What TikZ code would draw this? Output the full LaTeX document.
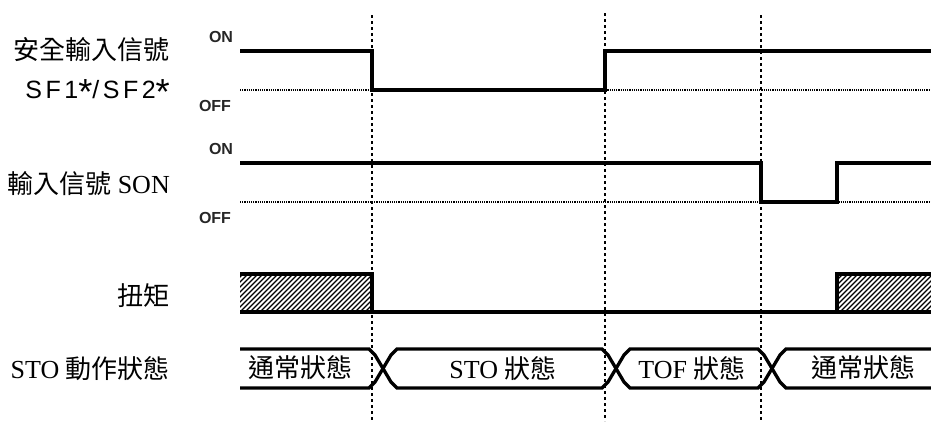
\documentclass[tikz,border=0pt]{standalone}
\usepackage{fontspec}
\setmainfont{Liberation Serif}
\newfontfamily\cjk{Noto Sans CJK TC}
\newfontfamily\arial{Liberation Sans}
\newfontfamily\arialsp[LetterSpace=14]{Liberation Sans}
\newcommand{\bigstar}{\raisebox{-0.25em}{\scalebox{1.45}{*}}}
\begin{document}
\begin{tikzpicture}[x=1pt,y=-1pt,
  wave/.style={line width=3.3pt, line join=miter, line cap=butt},
  offlevel/.style={line width=1.1pt, dash pattern=on 1.1pt off 1.1pt},
  guide/.style={line width=1.8pt, dash pattern=on 3pt off 3pt},
  hatchline/.style={line width=1.1pt},
  lbl/.style={inner sep=0pt},
  lvl/.style={font=\arial\bfseries\fontsize{16}{16}\selectfont, inner sep=0pt, text=black!85},
  cjkbig/.style={font=\cjk\fontsize{26}{26}\selectfont},
  latbig/.style={font=\fontsize{26}{26}\selectfont}]
\useasboundingbox (0,0) rectangle (931,421);

% guides
\draw[guide] (372,15) -- (372,421);
\draw[guide] (605,13) -- (605,421);
\draw[guide] (761,15) -- (761,421);

% signal 1
\draw[offlevel] (240,90) -- (931,90);
\draw[wave] (240,51) -- (372,51) -- (372,90) -- (605,90) -- (605,51) -- (931,51);

% signal 2
\draw[offlevel] (240,202) -- (931,202);
\draw[wave] (240,163) -- (761,163) -- (761,202) -- (837,202) -- (837,163) -- (931,163);

% torque
\begin{scope}
  \clip (240,274) rectangle (372,312);
  \foreach \k in {195,200,...,380} \draw[hatchline] (\k,312) -- (\k+38,274);
\end{scope}
\begin{scope}
  \clip (837,274) rectangle (931,312);
  \foreach \k in {795,800,...,935} \draw[hatchline] (\k,312) -- (\k+38,274);
\end{scope}
\draw[wave] (240,274) -- (372,274) -- (372,312) -- (837,312) -- (837,274) -- (931,274);
\draw[wave] (240,312) -- (931,312);

% STO state
\draw[wave] (240,349) -- (369,349) -- (375,355) -- (391,382) -- (397,388) -- (602,388) -- (608,382) -- (624,355) -- (630,349) -- (758,349) -- (764,355) -- (780,382) -- (786,388) -- (931,388);
\draw[wave] (240,388) -- (369,388) -- (375,382) -- (391,355) -- (397,349) -- (602,349) -- (608,355) -- (624,382) -- (630,388) -- (758,388) -- (764,382) -- (780,355) -- (786,349) -- (931,349);

% level labels
\node[lvl] (on1) at (221,37) {ON};
\node[lvl] (off1) at (215,106) {OFF};
\node[lvl] (on2) at (221,149) {ON};
\node[lvl] (off2) at (215,218) {OFF};

% row labels
\node[lbl, cjkbig, anchor=east] (l1a) at (170,50) {安全輸入信號};
\node[lbl, anchor=base east, font=\arialsp\fontsize{25}{25}\selectfont] (l1b) at (170,98) {SF1\bigstar/SF2\bigstar};
\node[lbl, latbig, anchor=base east] (l2) at (170,193) {{\cjk 輸入信號} SON};
\node[lbl, cjkbig, anchor=east] (l3) at (170,296) {扭矩};
\node[lbl, latbig, anchor=base east] (l4) at (170,378) {STO {\cjk 動作狀態}};

% state labels
\node[lbl, cjkbig] (s1) at (300,368) {通常狀態};
\node[lbl, latbig, anchor=base] (s2) at (503,378) {STO {\cjk 狀態}};
\node[lbl, latbig, anchor=base] (s3) at (692,378) {TOF {\cjk 狀態}};
\node[lbl, cjkbig] (s4) at (863,368) {通常狀態};
\end{tikzpicture}
\end{document}
